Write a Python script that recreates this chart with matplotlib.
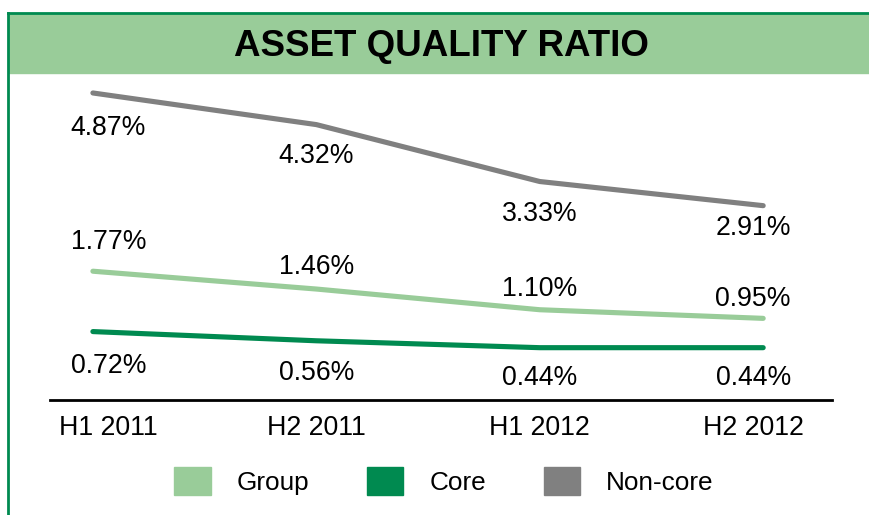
import matplotlib
matplotlib.use("Agg")
import matplotlib.pyplot as plt
from matplotlib.patches import Patch, Rectangle
from matplotlib.lines import Line2D

# data
periods = ["H1 2011", "H2 2011", "H1 2012", "H2 2012"]
group = [1.77, 1.46, 1.10, 0.95]
core = [0.72, 0.56, 0.44, 0.44]
non_core = [4.87, 4.32, 3.33, 2.91]

light_green = "#99CC99"
dark_green = "#008A50"
grey = "#808080"

plt.rcParams["font.family"] = ["Liberation Sans", "DejaVu Sans"]

fig = plt.figure(figsize=(8.7, 5.15), dpi=100)

# banner + frame
fig.patches.append(Rectangle((9 / 870, 1 - 73 / 515), 1, 59 / 515,
                             transform=fig.transFigure, color=light_green, zorder=0))
fig.lines.append(Line2D([8 / 870, 1], [1 - 12.5 / 515] * 2, transform=fig.transFigure,
                        color=dark_green, lw=2))
fig.lines.append(Line2D([8 / 870] * 2, [0, 1 - 12.5 / 515], transform=fig.transFigure,
                        color=dark_green, lw=2))
fig.text(441 / 870, 1 - 46 / 515, "ASSET QUALITY RATIO", ha="center", va="center",
         fontsize=26.5, fontweight="bold")

ax = fig.add_axes([50 / 870, 1 - 400 / 515, 782 / 870, 314.5 / 515])
x = list(range(len(periods)))
shift = [0.07, 0, 0, -0.045]

series = [
    ("Group", group, light_green, [29, 22, 21, 19]),
    ("Core", core, dark_green, [-34, -32, -30, -30]),
    ("Non-core", non_core, grey, [-35, -31, -32, -22]),
]
for name, vals, col, offs in series:
    ax.plot(x, vals, color=col, lw=3.7, solid_capstyle="round")
    for i, v in enumerate(vals):
        ax.annotate("%.2f%%" % v, (x[i] + shift[i], v), xytext=(0, offs[i]),
                    textcoords="offset pixels", ha="center", va="center", fontsize=19.2)

ax.set_xlim(-0.192, 3.308)
ax.set_ylim(-0.47, 5.0)
for s in ["top", "right", "left"]:
    ax.spines[s].set_visible(False)
ax.spines["bottom"].set_linewidth(2)
ax.set_yticks([])
ax.set_xticks([i + s for i, s in zip(x, shift)])
ax.set_xticklabels(periods, fontsize=19.3)
ax.tick_params(axis="x", length=0, pad=11)
ax.patch.set_alpha(0)

handles = [Patch(color=c, label=n) for n, v, c, o in series]
fig.legend(handles=handles, loc="center", bbox_to_anchor=(444 / 870, 1 - 481 / 515),
           ncol=3, frameon=False, fontsize=18.8, handlelength=1.4, handleheight=1.25,
           handletextpad=1.0, columnspacing=2.2)

fig.savefig("out.png", dpi=100)
